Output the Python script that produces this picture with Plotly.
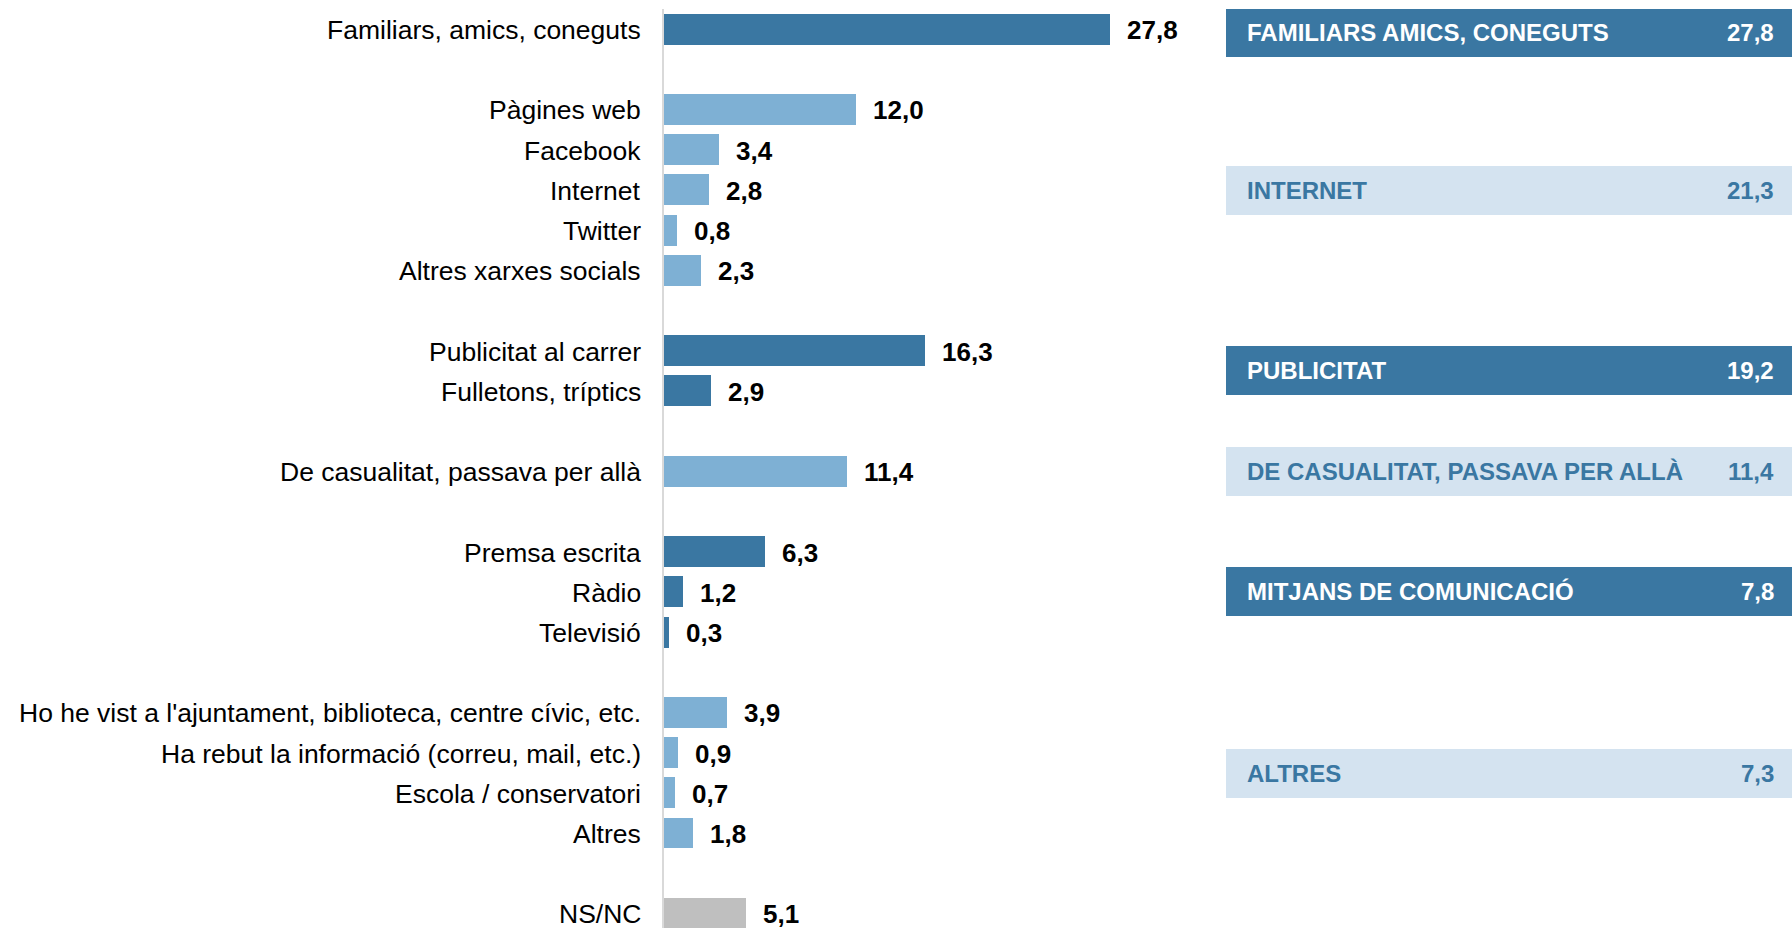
import plotly.graph_objects as go

# ---- data ----
categories = ["Familiars, amics, coneguts",
              "Pàgines web", "Facebook", "Internet", "Twitter", "Altres xarxes socials",
              "Publicitat al carrer", "Fulletons, tríptics",
              "De casualitat, passava per allà",
              "Premsa escrita", "Ràdio", "Televisió",
              "Ho he vist a l'ajuntament, biblioteca, centre cívic, etc.",
              "Ha rebut la informació (correu, mail, etc.)",
              "Escola / conservatori", "Altres",
              "NS/NC"]
rows = [0, 2, 3, 4, 5, 6, 8, 9, 11, 13, 14, 15, 17, 18, 19, 20, 22]
values = [27.8, 12.0, 3.4, 2.8, 0.8, 2.3, 16.3, 2.9, 11.4, 6.3, 1.2, 0.3, 3.9, 0.9, 0.7, 1.8, 5.1]
bar_tone = ["dark", "light", "light", "light", "light", "light", "dark", "dark", "light",
            "dark", "dark", "dark", "light", "light", "light", "light", "gray"]

groups = ["FAMILIARS AMICS, CONEGUTS", "INTERNET", "PUBLICITAT",
          "DE CASUALITAT, PASSAVA PER ALLÀ", "MITJANS DE COMUNICACIÓ", "ALTRES"]
group_values = [27.8, 21.3, 19.2, 11.4, 7.8, 7.3]
group_rows = [0.08, 4.02, 8.5, 11, 14, 18.52]
group_tone = ["dark", "light", "dark", "light", "dark", "light"]

# ---- styles ----
DARK = "#3a77a2"
LIGHT = "#7eb0d4"
PALE = "#d4e3f0"
GRAY = "#bfbfbf"
bar_colors = {"dark": DARK, "light": LIGHT, "gray": GRAY}
FONT = "Liberation Sans, Arial, sans-serif"

W, H = 1792, 928
axis_x = 664
px_per_unit = 16.04
x1_right = 1200
row_top_px, row_step = 29, 40.2
box_left = 1226

def fmt(v):
    return f"{v:.1f}".replace(".", ",")

fig = go.Figure()

fig.add_trace(go.Bar(
    x=values, y=rows, orientation="h", width=0.77,
    marker=dict(color=[bar_colors[t] for t in bar_tone], line=dict(width=0)),
    xaxis="x", yaxis="y", hoverinfo="skip", showlegend=False,
))

fig.add_trace(go.Bar(
    x=[1] * len(groups), y=group_rows, orientation="h", width=1.22,
    marker=dict(color=[DARK if t == "dark" else PALE for t in group_tone], line=dict(width=0)),
    xaxis="x2", yaxis="y", hoverinfo="skip", showlegend=False,
))

annotations = []
for c, r in zip(categories, rows):
    annotations.append(dict(x=0, y=r, xref="x", yref="y", text=c, showarrow=False,
                            xanchor="right", yanchor="middle", xshift=-21, yshift=-1,
                            font=dict(family=FONT, size=26.5, color="#000000")))
for v, r in zip(values, rows):
    annotations.append(dict(x=v, y=r, xref="x", yref="y", text=fmt(v), showarrow=False,
                            xanchor="left", yanchor="middle", xshift=15, yshift=-1,
                            font=dict(family=FONT, size=26, color="#000000", weight="bold")))
for g, gv, gr, t in zip(groups, group_values, group_rows, group_tone):
    col = "#ffffff" if t == "dark" else DARK
    annotations.append(dict(x=0, y=gr, xref="x2", yref="y", text=g, showarrow=False,
                            xanchor="left", yanchor="middle", xshift=19,
                            font=dict(family=FONT, size=24, color=col, weight="bold")))
    annotations.append(dict(x=1, y=gr, xref="x2", yref="y", text=fmt(gv), showarrow=False,
                            xanchor="right", yanchor="middle", xshift=-16,
                            font=dict(family=FONT, size=24, color=col, weight="bold")))

top_margin = 9
bottom_row = (H - row_top_px) / row_step
fig.update_layout(
    width=W, height=H,
    margin=dict(l=0, r=0, t=top_margin, b=0),
    paper_bgcolor="white", plot_bgcolor="rgba(0,0,0,0)",
    separators=",.",
    bargap=0,
    xaxis=dict(domain=[axis_x / W, x1_right / W], range=[0, (x1_right - axis_x) / px_per_unit],
               showgrid=False, zeroline=False, showticklabels=False, showline=False, fixedrange=True),
    xaxis2=dict(domain=[box_left / W, 1], range=[0, 1], anchor="y",
                showgrid=False, zeroline=False, showticklabels=False, showline=False, fixedrange=True),
    yaxis=dict(range=[bottom_row, -0.5], showticklabels=False,
               showgrid=False, zeroline=False, showline=True, linecolor="#d9d9d9", linewidth=2,
               ticks="", automargin=False, fixedrange=True),
    annotations=annotations,
)

fig.write_html("out.html",
               config={"displayModeBar": False, "staticPlot": True},
               post_script="document.body.style.margin='0';document.body.style.overflow='hidden';")
